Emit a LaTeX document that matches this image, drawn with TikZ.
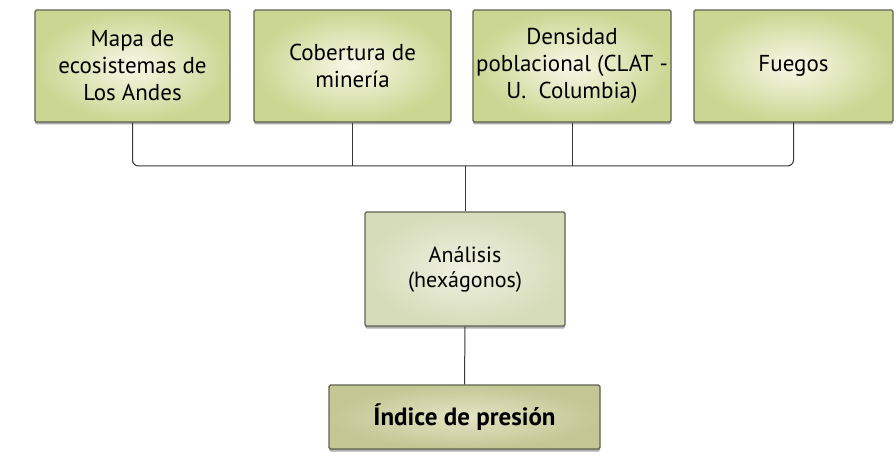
\documentclass[tikz,border=0pt]{standalone}
\usepackage{fontspec}
\setmainfont{PT Sans}
\usetikzlibrary{shadows}
\definecolor{edgeC}{RGB}{95,98,80}
\definecolor{topOut}{RGB}{202,214,145}
\definecolor{topIn}{RGB}{248,248,232}
\definecolor{anOut}{RGB}{214,220,185}
\definecolor{anIn}{RGB}{240,241,226}
\definecolor{inOut}{RGB}{196,198,148}
\definecolor{inIn}{RGB}{228,228,196}
\definecolor{lineC}{RGB}{55,55,55}
\tikzset{
  x=1pt, y=1pt,
  basebox/.style={draw=edgeC, line width=1.1pt, rounded corners=1.5pt, align=center,
     inner sep=0pt, drop shadow={shadow xshift=0pt, shadow yshift=-2.5pt, opacity=0.45, fill=black!70}},
  topbox/.style={basebox, inner color=topIn, outer color=topOut,
     minimum height=112pt, font=\fontsize{23}{27}\selectfont},
  anbox/.style={basebox, inner color=anIn, outer color=anOut, minimum width=200pt,
     minimum height=114pt, font=\fontsize{22}{25}\selectfont},
  inbox/.style={basebox, inner color=inIn, outer color=inOut, minimum width=271pt,
     minimum height=64pt, font=\fontsize{25}{28}\selectfont\bfseries},
  conn/.style={draw=lineC, line width=1pt}
}
\begin{document}
\begin{tikzpicture}
\useasboundingbox (0,0) rectangle (896,-457);
\node[topbox, minimum width=195pt] (b1) at (132.5,-66) {Mapa de\\ecosistemas de\\Los Andes};
\node[topbox, minimum width=197pt] (b2) at (352.5,-66) {Cobertura de\\minería};
\node[topbox, minimum width=198pt] (b3) at (572,-66) {Densidad\\poblacional (CLAT -\\U.\ \ Columbia)};
\node[topbox, minimum width=199pt] (b4) at (793.5,-66) {Fuegos};
\node[anbox] (an) at (465,-269) {Análisis\\(hexágonos)};
\node[inbox] (ix) at (464.5,-417) {Índice de presión};
\coordinate (busR) at (793.5,-166);
\draw[conn, rounded corners=6pt] (b1.south) |- (busR) -- (b4.south);
\draw[conn] (b2.south) -- (b2.south |- busR);
\draw[conn] (b3.south) -- (b3.south |- busR);
\draw[conn] (an.north) -- (an.north |- busR);
\draw[conn] (an.south) -- (ix.north);
\end{tikzpicture}
\end{document}
